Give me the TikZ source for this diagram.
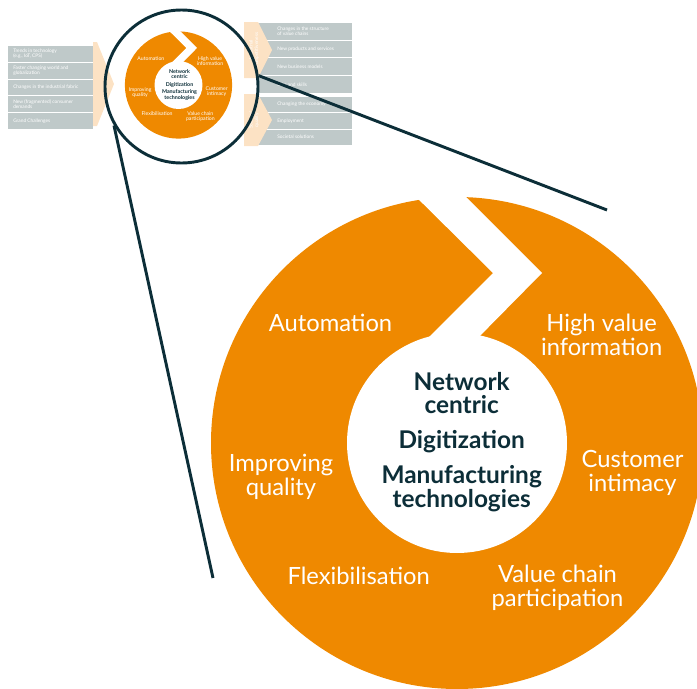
\documentclass[tikz,border=0pt]{standalone}
\usepackage{fontspec}
\setmainfont{Lato}
\usetikzlibrary{positioning}

\definecolor{ringorange}{RGB}{239,137,0}
\definecolor{darkteal}{RGB}{12,46,56}
\definecolor{boxgrey}{RGB}{191,201,201}
\definecolor{peach}{RGB}{252,226,196}

\tikzset{
  ringlabel/.style={text=white, align=center, inner sep=0pt, font=\fontsize{17.8}{17.6}\selectfont},
  corelabel/.style={text=darkteal, align=center, inner sep=0pt, font=\bfseries\fontsize{18.3}{17.8}\selectfont},
  rowbox/.style={fill=boxgrey, draw=white, line width=0.6pt, anchor=north west, inner sep=0pt},
  rowtext/.style={text=white, anchor=west, align=left, inner sep=0pt, font=\fontsize{3.6}{4.2}\selectfont},
  tabtext/.style={text=white, rotate=90, align=center, inner sep=0pt, font=\fontsize{3.6}{4.2}\selectfont},
  zoomline/.style={draw=darkteal, line width=2.2pt},
  ring/.pic={
    \fill[ringorange] (0,0) circle (246);
    \fill[white] (0,0) circle (110);
    % the notch
    \fill[white] (-57,-262) -- (36,-170) -- (-39,-95) -- (13,-97) -- (85,-170) -- (-10,-265) -- cycle;
    \node[ringlabel] (-auto) at (-126.5,-120) {Automation};
    \node[ringlabel] (-info) at (144.7,-108) {High value\\information};
    \node[ringlabel] (-quality) at (-176,34) {Improving\\quality};
    \node[ringlabel] (-customer) at (175.5,30) {Customer\\intimacy};
    \node[ringlabel] (-flex) at (-98.3,133) {Flexibilisation};
    \node[ringlabel] (-value) at (100.5,145) {Value chain\\participation};
    \node[corelabel] (-core) at (4.7,-1) {Network\\centric\\[8.4pt]Digitization\\[8.4pt]Manufacturing\\technologies};
  }
}

\begin{document}
\begin{tikzpicture}[x=0.75pt, y=-0.75pt]
\clip (0,0) rectangle (697,689);

% Drivers
\foreach \t [count=\i] in {{Trends in technology\\(e.g., IoT, CPS)}, {Faster changing world and\\globalization}, {Changes in the industrial fabric}, {New (fragmented) consumer\\demands}, {Grand Challenges}}{
  \node[rowbox, minimum width=64.5pt, minimum height=12.6pt] (lrow\i) at (7,{45+16.8*(\i-1)}) {};
  \node[rowtext] at ([xshift=4.5pt]lrow\i.west) {\t};
}
\fill[peach] (93,42) -- (97,42) -- (114,84) -- (97,126) -- (93,126) -- cycle;

% Impacts
\foreach \t [count=\i] in {{Changes in the structure\\of value chains}, {New products and services}, {New business models}, {Jobs and skills}}{
  \node[rowbox, minimum width=71.25pt, minimum height=13.3pt] (rarow\i) at (257,{22+17.7*(\i-1)}) {};
  \node[rowtext] at ([xshift=15pt]rarow\i.west) {\t};
}
\foreach \t [count=\i] in {{Changing the economy}, {Employment}, {Societal solutions}}{
  \node[rowbox, minimum width=71.25pt, minimum height=12.2pt] (rbrow\i) at (257,{96+16.3*(\i-1)}) {};
  \node[rowtext] at ([xshift=15pt]rbrow\i.west) {\t};
}
\fill[peach] (244,22) -- (258,22) -- (272,50) -- (258,78) -- (244,78) -- cycle;
\fill[peach] (244,94) -- (258,94) -- (272,120) -- (258,146) -- (244,146) -- cycle;
\node[tabtext] (industry) at (254,50) {Industrial\\competitiveness};
\node[tabtext] (society) at (254,120) {Society/\\quality};

% Rings
\pic (big) at (457,443) {ring};
\pic[scale=0.218, transform shape] (small) at (178.5,85) {ring};

% Zoom lens
\node[circle, zoomline, minimum size=114.75pt, inner sep=0pt] (lens) at (181.5,86.5) {};
\coordinate (bigtop) at (607,210);
\coordinate (bigbottom) at (213,578);
\draw[zoomline] (lens.8) -- (bigtop);
\draw[zoomline] (lens.210) -- (bigbottom);

\end{tikzpicture}
\end{document}
